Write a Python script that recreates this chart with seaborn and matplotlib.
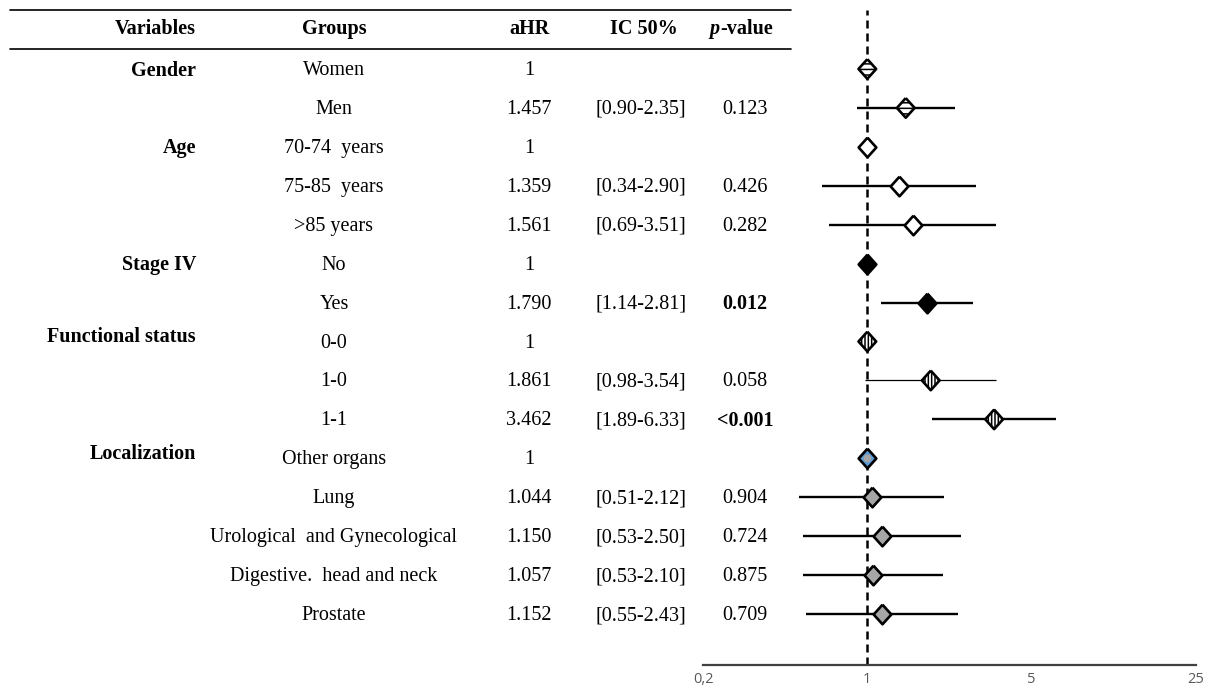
import matplotlib
matplotlib.use("Agg")
import matplotlib.pyplot as plt
from matplotlib.lines import Line2D
from matplotlib.transforms import blended_transform_factory
import seaborn as sns
import pandas as pd

# ---------------- data ----------------
variables = ["Gender", "Age", "Stage IV", "Functional status", "Localization"]
variable_first_row = [0, 2, 5, 7, 10]
groups = ["Women", "Men", "70-74  years", "75-85  years", ">85 years", "No", "Yes",
          "0-0", "1-0", "1-1", "Other organs", "Lung", "Urological  and Gynecological",
          "Digestive.  head and neck", "Prostate"]
group_var = ["Gender", "Gender", "Age", "Age", "Age", "Stage IV", "Stage IV",
             "Functional status", "Functional status", "Functional status",
             "Localization", "Localization", "Localization", "Localization", "Localization"]
ahr_text = ["1", "1.457", "1", "1.359", "1.561", "1", "1.790", "1", "1.861", "3.462",
            "1", "1.044", "1.150", "1.057", "1.152"]
ic_text = ["", "[0.90-2.35]", "", "[0.34-2.90]", "[0.69-3.51]", "", "[1.14-2.81]", "",
           "[0.98-3.54]", "[1.89-6.33]", "", "[0.51-2.12]", "[0.53-2.50]", "[0.53-2.10]",
           "[0.55-2.43]"]
pval_text = ["", "0.123", "", "0.426", "0.282", "", "0.012", "", "0.058", "<0.001",
             "", "0.904", "0.724", "0.875", "0.709"]
pval_bold = [False, False, False, False, False, False, True, False, False, True,
             False, False, False, False, False]
# plotted values
ahr = [1, 1.457, 1, 1.359, 1.561, 1, 1.790, 1, 1.861, 3.462, 1, 1.044, 1.150, 1.057, 1.152]
ci_lo = [None, 0.90, None, 0.64, 0.69, None, 1.14, None, 0.98, 1.89, None, 0.51, 0.53, 0.53, 0.55]
ci_hi = [None, 2.35, None, 2.90, 3.51, None, 2.81, None, 3.54, 6.33, None, 2.12, 2.50, 2.10, 2.43]
x_ticks = [0.2, 1, 5, 25]
x_ticklabels = ["0,2", "1", "5", "25"]

df = pd.DataFrame({"group": groups, "var": group_var, "ahr": ahr,
                   "lo": ci_lo, "hi": ci_hi, "row": range(len(groups))})

# ---------------- style ----------------
sns.set_theme(style="white")
plt.rcParams["font.family"] = ["Liberation Serif", "DejaVu Serif"]
plt.rcParams["text.color"] = "black"
plt.rcParams["hatch.linewidth"] = 1.1

W, H = 1212, 697
fig = plt.figure(figsize=(W / 100, H / 100), dpi=100)
fig.patch.set_facecolor("white")

row0_px, row_step = 69.0, 38.93
ax_top, ax_bot = 10.0, 665.0
ax = fig.add_axes([703 / W, 1 - ax_bot / H, (1196 - 703) / W, (ax_bot - ax_top) / H])
ax.set_facecolor("none")
ax.set_xscale("log")
ax.set_xlim(0.2, 25)
ax.set_ylim((ax_bot - row0_px) / row_step, (ax_top - row0_px) / row_step)

# reference line
ax.axvline(1, color="black", lw=1.8, ls=(0, (3.2, 2.0)), zorder=1)

# CI lines
ci = df.dropna(subset=["lo"])
for _, r in ci.iterrows():
    lw = 0.9 if r["group"] == "1-0" else 1.7
    ax.hlines(r["row"], r["lo"], r["hi"], color="black", lw=lw, zorder=2)

# slightly tall diamond marker
diamond = [(0, 1), (0.9, 0), (0, -1), (-0.9, 0), (0, 1)]
ms = 200
elw = 1.9
styles = {
    "Gender": dict(facecolor="white", hatch="---"),
    "Age": dict(facecolor="white", hatch=None),
    "Stage IV": dict(facecolor="black", hatch=None),
    "Functional status": dict(facecolor="white", hatch="|||||"),
}
for v in variables:
    sub = df[df["var"] == v]
    if v == "Localization":
        ref = sub[sub["group"] == "Other organs"]
        rest = sub[sub["group"] != "Other organs"]
        sns.scatterplot(data=ref, x="ahr", y="row", marker=diamond, s=ms, color="#5b9bd5",
                        edgecolor="black", linewidth=elw, ax=ax, zorder=3, legend=False)
        sns.scatterplot(data=ref, x="ahr", y="row", marker="o", s=32, color="#a6a6a6",
                        edgecolor="none", linewidth=0, ax=ax, zorder=4, legend=False)
        sns.scatterplot(data=rest, x="ahr", y="row", marker=diamond, s=ms, color="#a6a6a6",
                        edgecolor="black", linewidth=elw, ax=ax, zorder=3, legend=False)
    else:
        st = styles[v]
        kw = {}
        if st["hatch"]:
            kw["hatch"] = st["hatch"]
        sns.scatterplot(data=sub, x="ahr", y="row", marker=diamond, s=ms, color=st["facecolor"],
                        edgecolor="black", linewidth=elw, ax=ax, zorder=3, legend=False, **kw)

# axis styling
for side in ["top", "left", "right"]:
    ax.spines[side].set_visible(False)
ax.spines["bottom"].set_color("#404040")
ax.spines["bottom"].set_linewidth(1.6)
ax.set_xticks(x_ticks)
ax.set_xticklabels(x_ticklabels)
ax.xaxis.set_minor_locator(matplotlib.ticker.NullLocator())
ax.tick_params(axis="x", length=0, pad=5, labelcolor="#595959", labelsize=10.5)
for lab in ax.get_xticklabels():
    lab.set_family(["Open Sans", "DejaVu Sans"])
ax.set_yticks([])
ax.set_xlabel("")
ax.set_ylabel("")
ax.grid(False)

# ---------------- table ----------------
tr = blended_transform_factory(fig.transFigure, ax.transData)
fs = 14.5
dy = 0.04
col_var_x = 196 / W
col_grp_x = 334 / W
col_ahr_x = 529 / W
col_ic_x = 641 / W
col_p_x = 745 / W

hy = 1 - 29 / H
fig.text(col_var_x, hy, "Variables", ha="right", va="center", fontsize=fs, fontweight="bold")
fig.text(col_grp_x, hy, "Groups", ha="center", va="center", fontsize=fs, fontweight="bold")
fig.text(col_ahr_x, hy, "aHR", ha="center", va="center", fontsize=fs, fontweight="bold")
fig.text(644 / W, hy, "IC 50%", ha="center", va="center", fontsize=fs, fontweight="bold")
fig.text(720 / W, hy, "p", ha="right", va="center", fontsize=fs, fontweight="bold", style="italic")
fig.text(720 / W, hy, "-value", ha="left", va="center", fontsize=fs, fontweight="bold")

for yl in [10, 48.5]:
    fig.add_artist(Line2D([10 / W, 791 / W], [1 - yl / H, 1 - yl / H], color="black", lw=1.2))

for v, r0 in zip(variables, variable_first_row):
    off = -0.15 if v in ("Functional status", "Localization") else 0.0
    ax.text(col_var_x, r0 + off + dy, v, transform=tr, ha="right", va="center",
            fontsize=fs, fontweight="bold")

for i in range(len(groups)):
    y = i + dy
    ax.text(col_grp_x, y, groups[i], transform=tr, ha="center", va="center", fontsize=fs)
    ax.text(col_ahr_x, y, ahr_text[i], transform=tr, ha="center", va="center", fontsize=fs)
    if ic_text[i]:
        ax.text(col_ic_x, y, ic_text[i], transform=tr, ha="center", va="center", fontsize=fs)
    if pval_text[i]:
        ax.text(col_p_x, y, pval_text[i], transform=tr, ha="center", va="center", fontsize=fs,
                fontweight="bold" if pval_bold[i] else "normal")

fig.savefig("out.png", dpi=100, facecolor="white")
